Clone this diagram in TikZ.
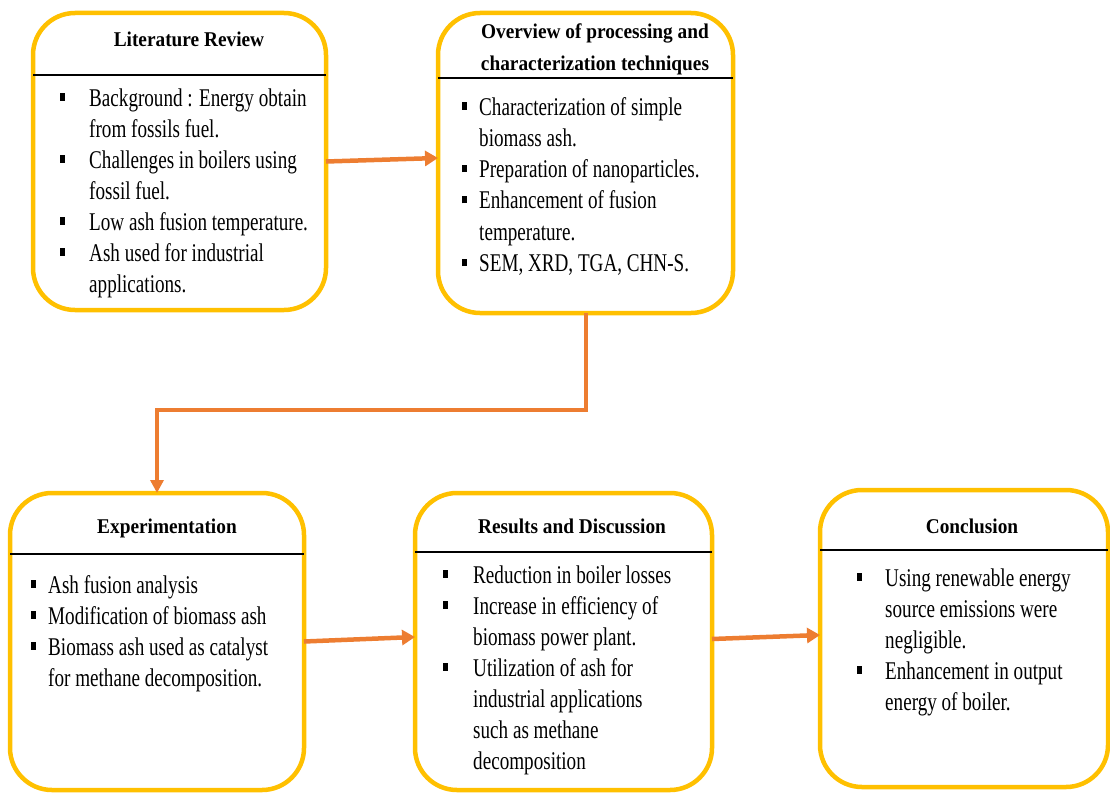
\documentclass[tikz,border=0pt]{standalone}
\usepackage{fontspec}
\setmainfont{Liberation Serif}
\newfontfamily\bodyfont[FakeStretch=0.75]{Liberation Serif}
\newfontfamily\headfont[FakeStretch=0.92]{Liberation Serif}
\usetikzlibrary{arrows.meta}
\definecolor{gold}{HTML}{FFC000}
\definecolor{arrowor}{HTML}{ED7D31}
\newcommand\bul{\raisebox{5.5pt}{\rule{4.5pt}{7.5pt}}}
\begin{document}
\begin{tikzpicture}[x=1pt,y=-1pt,
  box/.style={draw=gold, line width=4.5pt, rounded corners=42pt, anchor=north west, inner sep=0pt, outer sep=0pt},
  hdr/.style={draw=black, line width=2pt},
  flow/.style={draw=arrowor, line width=4.5pt, -{Triangle[length=13pt,width=15pt]}},
  title/.style={font=\headfont\bfseries\fontsize{21}{32}\selectfont, anchor=base, inner sep=0pt},
  body/.style={font=\bodyfont\fontsize{25.5}{31}\selectfont, anchor=base west, inner sep=0pt},
]
\useasboundingbox (0,0) rectangle (1110,792);

% boxes
\node[box, minimum width=293pt, minimum height=297pt] (b1) at (33,13) {};
\node[box, minimum width=295pt, minimum height=300pt] (b2) at (438,13) {};
\node[box, minimum width=294pt, minimum height=297pt] (b3) at (10,493) {};
\node[box, minimum width=297pt, minimum height=297pt] (b4) at (415,493) {};
\node[box, minimum width=288pt, minimum height=297pt] (b5) at (820,490) {};

% header rules
\draw[hdr] (33,75) -- (326,75);
\draw[hdr] (438,78) -- (733,78);
\draw[hdr] (10,554) -- (304,554);
\draw[hdr] (415,552) -- (712,552);
\draw[hdr] (820,550) -- (1108,550);

% titles
\node[title] (h1) at (189,47) {Literature Review};
\node[title] (h2) at (595,39) {\begin{tabular}[t]{@{}c@{}}Overview of processing and\\characterization techniques\end{tabular}};
\node[title] (h3) at (167,533) {Experimentation};
\node[title] (h4) at (572,533) {Results and Discussion};
\node[title] (h5) at (972,533) {Conclusion};

% body lists
\node[body] (t1) at (60,106) {\begin{tabular}[t]{@{}p{29pt}@{}l@{}}
\bul & Background : Energy obtain\\
 & from fossils fuel.\\
\bul & Challenges in boilers using\\
 & fossil fuel.\\
\bul & Low ash fusion temperature.\\
\bul & Ash used for industrial\\
 & applications.
\end{tabular}};

\node[body, font=\bodyfont\fontsize{25.5}{31.3}\selectfont] (t2) at (462,115) {\begin{tabular}[t]{@{}p{17pt}@{}l@{}}
\bul & Characterization of simple\\
 & biomass ash.\\
\bul & Preparation of nanoparticles.\\
\bul & Enhancement of fusion\\
 & temperature.\\
\bul & SEM, XRD, TGA, CHN-S.
\end{tabular}};

\node[body] (t3) at (31,593) {\begin{tabular}[t]{@{}p{17pt}@{}l@{}}
\bul & Ash fusion analysis\\
\bul & Modification of biomass ash\\
\bul & Biomass ash used as catalyst\\
 & for methane decomposition.
\end{tabular}};

\node[body] (t4) at (443,583) {\begin{tabular}[t]{@{}p{30pt}@{}l@{}}
\bul & Reduction in boiler losses\\
\bul & Increase in efficiency of\\
 & biomass power plant.\\
\bul & Utilization of ash for\\
 & industrial applications\\
 & such as methane\\
 & decomposition
\end{tabular}};

\node[body] (t5) at (857,586) {\begin{tabular}[t]{@{}p{28pt}@{}l@{}}
\bul & Using renewable energy\\
 & source emissions were\\
 & negligible.\\
\bul & Enhancement in output\\
 & energy of boiler.
\end{tabular}};

% connectors
\draw[flow] (b1.east) -- ([yshift=5pt]b2.west);
\coordinate (bend) at (585,410);
\draw[flow, line width=4pt, -{Triangle[length=13pt,width=13pt]}] (b2.south) -- (b2.south |- bend) -| (b3.north);
\draw[flow] (b3.east) -- ([yshift=4.5pt]b4.west);
\draw[flow] ([yshift=2.5pt]b4.east) -- ([yshift=3.5pt]b5.west);
\end{tikzpicture}
\end{document}
